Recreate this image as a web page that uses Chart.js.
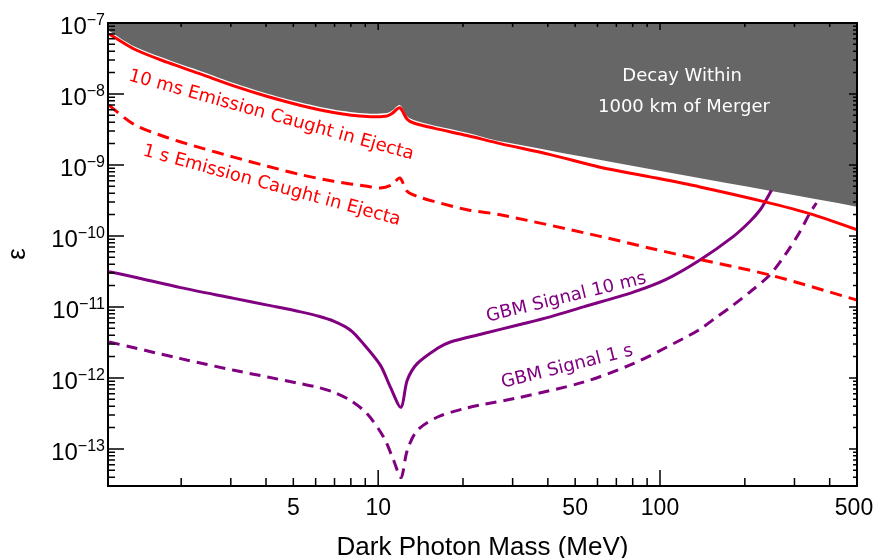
<!DOCTYPE html>
<html>
<head>
<meta charset="utf-8">
<script src="https://cdn.jsdelivr.net/npm/chart.js@4.4.0/dist/chart.umd.min.js"></script>
<style>
html, body { margin: 0; padding: 0; background: #fff; }
#wrap { width: 879px; height: 558px; }
</style>
</head>
<body>
<div id="wrap"><canvas id="chartDP" width="879" height="558"></canvas></div>
<script>
// Dark photon mass (MeV) and epsilon values
var decayMass = [1.11, 1.36, 1.79, 2.35, 3.07, 4.05, 5.31, 6.94, 9.14, 10.76, 11.21, 11.93, 12.67, 13.37, 15.74, 20.67, 27.1, 500];
var decayEps = [7.7e-8, 4.7e-8, 3.05e-8, 2.09e-8, 1.43e-8, 1.01e-8, 7.6e-9, 6.05e-9, 5.3e-9, 5.4e-9, 5.85e-9, 7.0e-9, 4.85e-9, 4.3e-9, 3.6e-9, 2.85e-9, 2.15e-9, 2.58e-10];

var ejecta10msMass = [1.11, 1.36, 1.79, 2.35, 3.07, 4.05, 5.31, 6.94, 9.14, 10.76, 11.21, 11.93, 12.67, 13.37, 15.74, 20.67, 27.1, 40.8, 61.3, 92.2, 138.6, 232, 349, 500];
var ejecta10msEps = [7.0e-8, 4.3e-8, 2.78e-8, 1.9e-8, 1.3e-8, 9.2e-9, 6.9e-9, 5.5e-9, 4.8e-9, 4.9e-9, 5.3e-9, 6.4e-9, 4.4e-9, 3.9e-9, 3.3e-9, 2.6e-9, 2.0e-9, 1.4e-9, 9.3e-10, 6.8e-10, 4.9e-10, 3.07e-10, 2.0e-10, 1.22e-10];

var ejecta1sMass = [1.11, 1.36, 1.79, 2.35, 3.07, 4.05, 5.31, 6.94, 9.14, 10.19, 11.21, 11.93, 12.67, 13.75, 15.74, 20.67, 27.1, 61.3, 92.2, 138.6, 245.3, 500];
var ejecta1sEps = [6.9e-9, 3.73e-9, 2.42e-9, 1.74e-9, 1.29e-9, 9.6e-10, 7.3e-10, 5.9e-10, 5.0e-10, 4.74e-10, 5.28e-10, 6.57e-10, 4.25e-10, 3.61e-10, 3.07e-10, 2.34e-10, 1.99e-10, 9.87e-11, 6.72e-11, 4.67e-11, 2.82e-11, 1.25e-11];

var gbm10msMass = [1.11, 1.36, 1.99, 3.08, 4.05, 5.31, 6.08, 6.95, 7.98, 8.89, 10.19, 11.06, 12.06, 12.67, 13.75, 16.18, 18.04, 23.66, 31.08, 40.76, 53.5, 80.4, 105.6, 138.6, 181.8, 208.4, 226.1, 235.5, 248.7];
var gbm10msEps = [3.14e-11, 2.64e-11, 1.87e-11, 1.32e-11, 1.06e-11, 8.52e-12, 7.48e-12, 6.3e-12, 4.7e-12, 2.98e-12, 1.5e-12, 7.35e-13, 3.86e-13, 9.22e-13, 1.59e-12, 2.59e-12, 3.21e-12, 4.22e-12, 5.53e-12, 7.24e-12, 1.0e-11, 1.62e-11, 2.47e-11, 4.59e-11, 9.8e-11, 1.6e-10, 2.3e-10, 2.99e-10, 4.39e-10];

var gbm1sMass = [1.11, 1.99, 3.08, 4.05, 5.31, 6.08, 6.95, 7.98, 9.14, 10.47, 11.36, 12.06, 12.67, 13.75, 16.18, 20.1, 23.04, 31.08, 53.5, 80.4, 120.9, 138.6, 158.8, 181.8, 208.4, 245.3, 281.1, 313.3, 340, 359];
var gbm1sEps = [3.21e-12, 1.87e-12, 1.28e-12, 1.03e-12, 8.28e-13, 7.41e-13, 6.3e-13, 4.81e-13, 3.12e-13, 1.45e-13, 6.81e-14, 3.95e-14, 9.43e-14, 1.81e-13, 2.79e-13, 3.67e-13, 4.15e-13, 5.21e-13, 8.72e-13, 1.59e-12, 3.58e-12, 4.85e-12, 7.17e-12, 1.06e-11, 1.62e-11, 2.82e-11, 5.77e-11, 1.14e-10, 2.09e-10, 2.91e-10];

// axis ticks
var xLabelVals = [5, 10, 50, 100, 500];
var xMajorVals = [10, 100];
var yExponents = [-13, -12, -11, -10, -9, -8, -7];

// text labels placed in data coordinates (mass, eps, angle in degrees)
var curveLabels = [
    { text: '10 ms Emission Caught in Ejecta', m: 4.17, e: 5.0e-9, angle: 15.6, color: '#ff0000' },
    { text: '1 s Emission Caught in Ejecta', m: 4.19, e: 5.1e-10, angle: 15.2, color: '#ff0000' },
    { text: 'GBM Signal 10 ms', m: 46.5, e: 1.35e-11, angle: -13.7, color: '#800080' },
    { text: 'GBM Signal 1 s', m: 46.8, e: 1.43e-12, angle: -14, color: '#800080' },
    { text: 'Decay Within', m: 119.8, e: 1.75e-8, angle: 0, color: '#ffffff' },
    { text: '1000 km of Merger', m: 121.6, e: 6.4e-9, angle: 0, color: '#ffffff' }
];

function toPoints(xs, ys) {
    return xs.map(function (x, i) {
        return { x: x, y: ys[i] };
    });
}

// logarithmic minor tick values inside a range
function logTicks(min, max) {
    var out = [];
    for (var d = Math.floor(Math.log10(min)); d <= Math.ceil(Math.log10(max)); d++) {
        for (var m = 1; m < 10; m++) {
            var v = m * Math.pow(10, d);
            if (v > min * 1.0001 && v < max * 0.9999) out.push(v);
        }
    }
    return out;
}

var axisDecor = {
    id: 'axisDecor',
    afterDraw: function (chart) {
        var ctx = chart.ctx, a = chart.chartArea;
        var xs = chart.scales.x, ys = chart.scales.y;
        ctx.save();
        ctx.strokeStyle = '#000';
        ctx.lineWidth = 1.5;
        ctx.beginPath();
        logTicks(xs.min, xs.max).forEach(function (v) {
            var px = xs.getPixelForValue(v);
            var major = xMajorVals.indexOf(Math.round(v)) >= 0;
            ctx.moveTo(px, a.bottom);
            ctx.lineTo(px, a.bottom - (major ? 16 : 8));
            ctx.moveTo(px, a.top);
            ctx.lineTo(px, a.top + (major ? 7 : 4));
        });
        logTicks(ys.min, ys.max).forEach(function (v) {
            var py = ys.getPixelForValue(v);
            var lg = Math.log10(v);
            var major = Math.abs(lg - Math.round(lg)) < 1e-6;
            ctx.moveTo(a.left, py);
            ctx.lineTo(a.left + (major ? 16 : 7), py);
            ctx.moveTo(a.right, py);
            ctx.lineTo(a.right - (major ? 8 : 4), py);
        });
        ctx.stroke();

        // frame
        ctx.lineWidth = 2;
        ctx.strokeRect(a.left, a.top, a.right - a.left, a.bottom - a.top);

        // y tick labels 10^n
        ctx.fillStyle = '#000';
        ctx.textAlign = 'left';
        ctx.textBaseline = 'alphabetic';
        yExponents.forEach(function (e) {
            var py = ys.getPixelForValue(Math.pow(10, e));
            var sup = '\u2212' + Math.abs(e);
            ctx.font = '16px "Liberation Sans", Arial, sans-serif';
            var w2 = ctx.measureText(sup).width;
            ctx.font = '24px "Liberation Sans", Arial, sans-serif';
            var w1 = ctx.measureText('10').width;
            var right = 105;
            ctx.fillText('10', right - w2 - w1, py + 11);
            ctx.font = '16px "Liberation Sans", Arial, sans-serif';
            ctx.fillText(sup, right - w2, py + 2);
        });

        // x tick labels
        ctx.font = '23px "Liberation Sans", Arial, sans-serif';
        ctx.textAlign = 'center';
        xLabelVals.forEach(function (v) {
            var px = xs.getPixelForValue(v);
            if (v === 500) px -= 3;
            ctx.fillText(String(v), px, 515);
        });

        // axis titles
        ctx.font = '26px "Liberation Sans", Arial, sans-serif';
        ctx.fillText('Dark Photon Mass (MeV)', (a.left + a.right) / 2, 555);
        ctx.save();
        ctx.translate(18, 254);
        ctx.rotate(-Math.PI / 2);
        ctx.textBaseline = 'middle';
        ctx.font = '26px "Liberation Sans", Arial, sans-serif';
        ctx.fillText('\u03b5', 0, 0);
        ctx.restore();

        // curve labels
        ctx.font = '18px "DejaVu Sans", Verdana, sans-serif';
        ctx.textAlign = 'center';
        ctx.textBaseline = 'middle';
        curveLabels.forEach(function (l) {
            ctx.save();
            ctx.translate(xs.getPixelForValue(l.m), ys.getPixelForValue(l.e));
            ctx.rotate(l.angle * Math.PI / 180);
            ctx.fillStyle = l.color;
            ctx.fillText(l.text, 0, 0);
            ctx.restore();
        });
        ctx.restore();
    }
};

var ctx = document.getElementById('chartDP').getContext('2d');
var myChart = new Chart(ctx, {
    type: 'line',
    data: {
        datasets: [{
            label: 'Decay Within 1000 km',
            data: toPoints(decayMass, decayEps),
            borderWidth: 0,
            borderColor: 'rgba(0,0,0,0)',
            backgroundColor: '#666666',
            fill: 'end',
            order: 10
        }, {
            label: '10 ms Emission Caught in Ejecta',
            data: toPoints(ejecta10msMass, ejecta10msEps),
            borderColor: '#ff0000',
            borderWidth: 3,
            fill: false
        }, {
            label: '1 s Emission Caught in Ejecta',
            data: toPoints(ejecta1sMass, ejecta1sEps),
            borderColor: '#ff0000',
            borderWidth: 3,
            borderDash: [12, 7],
            fill: false
        }, {
            label: 'GBM Signal 10 ms',
            data: toPoints(gbm10msMass, gbm10msEps),
            borderColor: '#800080',
            borderWidth: 3,
            fill: false
        }, {
            label: 'GBM Signal 1 s',
            data: toPoints(gbm1sMass, gbm1sEps),
            borderColor: '#800080',
            borderWidth: 3,
            borderDash: [11, 7],
            fill: false
        }]
    },
    options: {
        responsive: false,
        animation: false,
        devicePixelRatio: 1,
        layout: { padding: { top: 23, right: 22, left: 0, bottom: 0 } },
        elements: {
            point: { radius: 0 },
            line: { tension: 0.3, borderCapStyle: 'butt' }
        },
        plugins: {
            legend: { display: false },
            tooltip: { enabled: false }
        },
        scales: {
            x: {
                type: 'logarithmic',
                min: 1.1,
                max: 500,
                grid: { display: false },
                border: { display: false },
                ticks: { display: false },
                afterFit: function (s) { s.height = 72; }
            },
            y: {
                type: 'logarithmic',
                min: 3e-14,
                max: 1e-7,
                grid: { display: false },
                border: { display: false },
                ticks: { display: false },
                afterFit: function (s) { s.width = 108; }
            }
        }
    },
    plugins: [axisDecor]
});
</script>
</body>
</html>
